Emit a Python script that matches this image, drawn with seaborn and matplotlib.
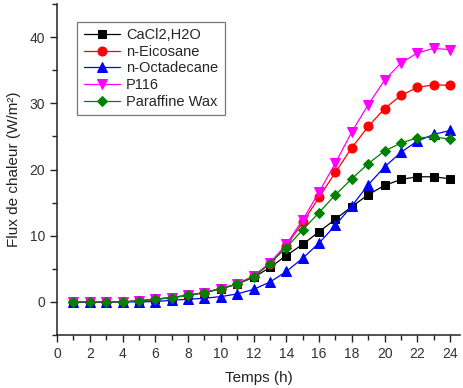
import matplotlib
matplotlib.use("Agg")
import matplotlib.pyplot as plt
from matplotlib.ticker import MultipleLocator
import seaborn as sns
import pandas as pd

hours = list(range(1, 25))
series_names = ["CaCl2,H2O", "n-Eicosane", "n-Octadecane", "P116", "Paraffine Wax"]
cacl2 = [0, 0, 0, 0, 0.15, 0.4, 0.65, 1.0, 1.4, 2.0, 2.7, 3.7, 5.2, 7.0, 8.7, 10.6,
         12.5, 14.4, 16.2, 17.6, 18.5, 18.9, 18.9, 18.6]
eicosane = [0, 0, 0, 0, 0.15, 0.4, 0.65, 1.0, 1.4, 2.0, 2.7, 3.9, 5.8, 8.5, 12.0, 15.8,
            19.6, 23.3, 26.5, 29.2, 31.2, 32.4, 32.8, 32.7]
octadecane = [0, 0, 0, 0, 0.0, 0.05, 0.25, 0.4, 0.55, 0.8, 1.2, 1.9, 3.0, 4.6, 6.6, 8.9,
              11.6, 14.5, 17.7, 20.4, 22.6, 24.3, 25.3, 25.9]
p116 = [0, 0, 0, 0, 0.15, 0.4, 0.65, 1.0, 1.4, 2.0, 2.7, 3.9, 5.9, 8.7, 12.4, 16.6,
        21.0, 25.7, 29.8, 33.5, 36.1, 37.6, 38.3, 38.1]
paraffine = [0, 0, 0, 0, 0.15, 0.4, 0.65, 1.0, 1.4, 2.0, 2.7, 3.8, 5.8, 8.2, 10.9, 13.5,
             16.2, 18.6, 20.9, 22.8, 24.0, 24.8, 24.9, 24.6]
all_values = [cacl2, eicosane, octadecane, p116, paraffine]

colors = ["#000000", "#ff0000", "#0000ff", "#ff00ff", "#008000"]
markers = ["s", "o", "^", "v", "D"]
msizes = [5.5, 6.5, 6.5, 6.5, 5.5]

sns.set_style("ticks")
plt.rcParams["font.family"] = ["Liberation Sans", "DejaVu Sans"]

fig = plt.figure(figsize=(4.64, 3.88), dpi=100)
ax = fig.add_axes([57 / 464, 53 / 388, 403 / 464, 331 / 388])

for name, vals, c, m, ms in zip(series_names, all_values, colors, markers, msizes):
    df = pd.DataFrame({"Temps": hours, "Flux": vals})
    sns.lineplot(data=df, x="Temps", y="Flux", ax=ax, color=c, marker=m,
                 markersize=ms, markeredgecolor=c, markerfacecolor=c,
                 linewidth=0.9, alpha=1.0, label=name)

for line, c in zip(ax.lines, colors):
    line.set_color(matplotlib.colors.to_rgba(c, 0.5))
    line.set_markerfacecolor(c)
    line.set_markeredgecolor(c)

ax.set_xlim(0, 24.6)
ax.set_ylim(-5, 45)
ax.xaxis.set_major_locator(MultipleLocator(2))
ax.xaxis.set_minor_locator(MultipleLocator(1))
ax.yaxis.set_major_locator(MultipleLocator(10))
ax.yaxis.set_minor_locator(MultipleLocator(5))
ax.tick_params(axis="both", which="major", direction="out", length=5, width=1,
               labelsize=10, colors="#222222", labelcolor="#333333")
ax.tick_params(axis="both", which="minor", direction="out", length=3.5, width=1,
               colors="#222222")
for s in ["left", "bottom"]:
    ax.spines[s].set_linewidth(1.1)
    ax.spines[s].set_color("#222222")
sns.despine(ax=ax)

ax.set_xlabel("Temps (h)", fontsize=11, color="#222222", labelpad=7)
ax.set_ylabel("Flux de chaleur (W/m²)", fontsize=11, color="#222222", labelpad=6)

leg = ax.legend(loc="upper left", bbox_to_anchor=(0.05, 0.947), fontsize=10.5,
                frameon=True, fancybox=False, edgecolor="#555555",
                handlelength=2.5, labelspacing=0.18, borderpad=0.45,
                handletextpad=0.4, borderaxespad=0)
leg.get_frame().set_linewidth(0.9)

fig.savefig("out.png", dpi=100)
